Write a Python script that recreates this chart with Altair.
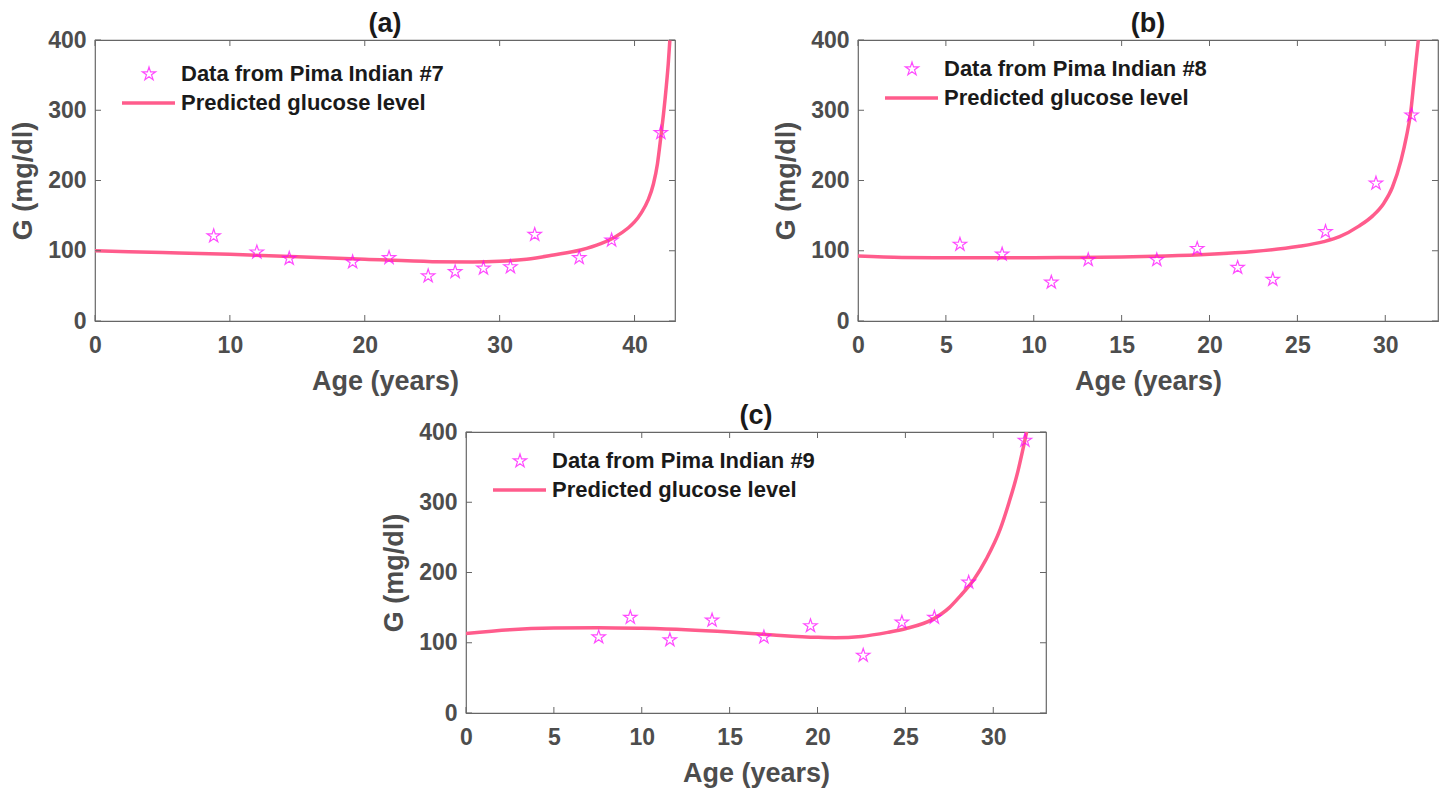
import altair as alt
import pandas as pd

# ---------------- data ----------------
# Panel (a): Pima Indian #7
a_age = [8.8, 12.0, 14.4, 19.1, 21.8, 24.7, 26.7, 28.8, 30.8, 32.6, 35.9, 38.3, 41.95]
a_g = [121, 98, 89, 84, 90, 64, 70, 75, 77, 123, 90, 115, 268]
a_curve_age = [0, 5, 10, 15, 20, 25, 28, 30, 32, 34, 36, 37.5, 38.5, 39.5, 40.0, 40.5,
               41.0, 41.4, 41.7, 41.95, 42.15, 42.36, 42.5, 42.62]
a_curve_g = [100, 97.5, 95, 91.5, 88, 84.5, 84, 85, 88, 94, 101, 110, 119, 132, 141, 154,
             172, 195, 224, 262, 295, 335, 366, 400]

# Panel (b): Pima Indian #8
b_age = [5.8, 8.2, 11.0, 13.1, 17.0, 19.3, 21.6, 23.6, 26.6, 29.47, 31.5]
b_g = [109, 95, 55, 87, 87, 103, 76, 59, 127, 196, 293]
b_curve_age = [0, 2.5, 5, 7.5, 10, 12.5, 15, 17.5, 20, 22.5, 25, 26.5, 27.4, 28.5,
               29.3, 29.9, 30.4, 30.9, 31.2, 31.45, 31.62, 31.76, 31.88]
b_curve_g = [92.5, 90.5, 90, 90, 90, 90.5, 91, 92.5, 95, 99, 106, 113, 120, 135,
             150, 167, 190, 229, 262, 298, 338, 372, 400]

# Panel (c): Pima Indian #9
c_age = [7.55, 9.35, 11.6, 14.0, 16.95, 19.6, 22.6, 24.8, 26.65, 28.6, 31.8]
c_g = [108, 136, 104, 132, 108, 124, 82, 129, 136, 186, 388]
c_curve_age = [0, 2.5, 5, 7.5, 10, 12.5, 15, 17.5, 20, 21, 22.5, 24, 25, 26.6, 27.5,
               28.1, 28.9, 29.6, 30.4, 30.9, 31.4, 31.7, 31.9]
c_curve_g = [113, 118.6, 121, 121.5, 120.5, 118.6, 115.3, 111, 107.7, 107.2, 109,
             114.8, 120, 134, 150, 166, 190, 219, 262, 300, 344, 377, 400]

y_ticks = [0, 100, 200, 300, 400]
a_xticks = [0, 10, 20, 30, 40]
bc_xticks = [0, 5, 10, 15, 20, 25, 30]

LINE_LABEL = "Predicted glucose level"

# ---------------- style ----------------
FONT = "Liberation Sans"
W, H = 580, 281
AXIS_GRAY = "#4d4d4d"
BOX_GRAY = "#666666"
PINK = "#FF5C8C"
MAGENTA = "#FF00FF"
TICK = 6
# five-pointed star (MATLAB pentagram) as an SVG path in the unit box
STAR = ("M0,-1L0.2245,-0.309L0.9511,-0.309L0.3633,0.118L0.5878,0.809L0,0.382"
        "L-0.5878,0.809L-0.3633,0.118L-0.9511,-0.309L-0.2245,-0.309Z")


def panel(ages, gvals, cx, cy, xticks, xmax, data_label, title, leg_y):
    pts = pd.DataFrame({"age": ages, "G": gvals, "series": [data_label] * len(ages)})
    cur = pd.DataFrame({"age": cx, "G": cy, "kind": [LINE_LABEL] * len(cx)})
    xt = pd.DataFrame({"age": xticks})
    yt = pd.DataFrame({"G": y_ticks})

    xs = alt.Scale(domain=[0, xmax], nice=False, zero=False)
    ys = alt.Scale(domain=[0, 400], nice=False, zero=False)

    x_axis = alt.Axis(values=xticks, title="Age (years)", labelFlush=False,
                      labelOverlap=False, ticks=False, tickSize=0, domain=False,
                      grid=False, labelPadding=13, titlePadding=11)
    y_axis = alt.Axis(values=y_ticks, title="G (mg/dl)", labelFlush=False,
                      labelOverlap=False, ticks=False, tickSize=0, domain=False,
                      grid=False, labelPadding=9, titlePadding=10)

    X = alt.X("age:Q", scale=xs, axis=x_axis)
    Y = alt.Y("G:Q", scale=ys, axis=y_axis)

    line = alt.Chart(cur).mark_line(clip=True, strokeWidth=3.5, interpolate="monotone").encode(
        x=X, y=Y,
        color=alt.Color("kind:N",
                        scale=alt.Scale(domain=[LINE_LABEL], range=[PINK]),
                        legend=alt.Legend(title=None, orient="none", legendX=25,
                                          legendY=leg_y + 11.5, symbolType="stroke",
                                          symbolSize=2809, symbolStrokeWidth=3.5,
                                          labelOffset=4, padding=0)),
    )
    points = alt.Chart(pts).mark_point(filled=False, color=MAGENTA, size=196,
                                       strokeWidth=1.2).encode(
        x=X, y=Y,
        shape=alt.Shape("series:N",
                        scale=alt.Scale(domain=[data_label], range=[STAR]),
                        legend=alt.Legend(title=None, orient="none", legendX=43,
                                          legendY=leg_y, symbolSize=196,
                                          symbolStrokeWidth=1.2, labelOffset=21,
                                          padding=0)),
    )
    tb = alt.Chart(xt).mark_rule(color=BOX_GRAY, strokeWidth=1).encode(
        x=X, y=alt.value(H), y2=alt.value(H - TICK))
    tt = alt.Chart(xt).mark_rule(color=BOX_GRAY, strokeWidth=1).encode(
        x=X, y=alt.value(0), y2=alt.value(TICK))
    tl = alt.Chart(yt).mark_rule(color=BOX_GRAY, strokeWidth=1).encode(
        y=Y, x=alt.value(0), x2=alt.value(TICK))
    tr = alt.Chart(yt).mark_rule(color=BOX_GRAY, strokeWidth=1).encode(
        y=Y, x=alt.value(W), x2=alt.value(W - TICK))

    return alt.layer(line, points, tb, tt, tl, tr).properties(
        width=W, height=H,
        title=alt.TitleParams(title, fontSize=27, fontWeight="bold", font=FONT,
                              color="#1a1a1a", offset=-9, anchor="middle",
                              frame="group"),
    )


pa = panel(a_age, a_g, a_curve_age, a_curve_g, a_xticks, 43,
           "Data from Pima Indian #7", "(a)", 23)
pb = panel(b_age, b_g, b_curve_age, b_curve_g, bc_xticks, 33,
           "Data from Pima Indian #8", "(b)", 18)
pc = panel(c_age, c_g, c_curve_age, c_curve_g, bc_xticks, 33,
           "Data from Pima Indian #9", "(c)", 18)

spacer = alt.Chart(pd.DataFrame({"v": [0]})).mark_point(opacity=0, size=1).encode(
    x=alt.value(10), y=alt.value(5)
).properties(width=285, height=10, view=alt.ViewBackground(strokeOpacity=0))

top = alt.hconcat(pa, pb, spacing=95).resolve_scale(
    shape="independent", color="independent")
bottom = alt.hconcat(spacer, pc, spacing=0).resolve_scale(
    shape="independent", color="independent")

chart = alt.vconcat(top, bottom, spacing=6).resolve_scale(
    shape="independent", color="independent"
).configure_view(
    stroke=BOX_GRAY, strokeWidth=1.2
).configure_axis(
    labelFont=FONT, labelFontSize=23, labelFontWeight="bold", labelColor=AXIS_GRAY,
    titleFont=FONT, titleFontSize=27, titleFontWeight="bold", titleColor=AXIS_GRAY,
).configure_legend(
    labelFont=FONT, labelFontSize=22, labelFontWeight="bold", labelColor="#1a1a1a",
    labelLimit=0,
).properties(padding={"left": 9, "top": 9, "right": 3, "bottom": 3})

chart.save("out.html", embed_options={"renderer": "svg", "actions": False})
